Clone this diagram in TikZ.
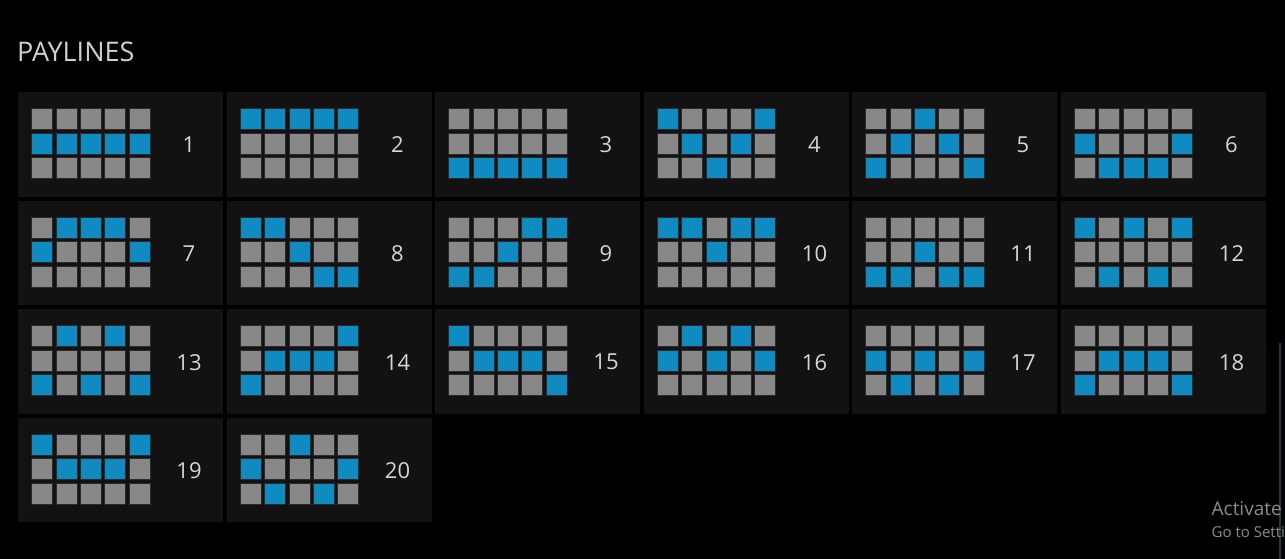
\documentclass[tikz,border=0pt]{standalone}
\usepackage{fontspec}
\setmainfont{Open Sans}
\definecolor{cellbg}{HTML}{121212}
\definecolor{sqgray}{HTML}{888888}
\definecolor{sqblue}{HTML}{0F8BC1}
\definecolor{numtxt}{HTML}{D6D6D6}
\definecolor{titletxt}{HTML}{D0D0D0}
\definecolor{wmtxt}{HTML}{8C8C8C}
\definecolor{scrollc}{HTML}{17394A}
\definecolor{sqedge}{HTML}{2A2A2A}
\tikzset{
  cellbox/.style={fill=cellbg},
  sq0/.style={fill=sqgray, draw=sqedge, line width=0.6pt},
  sq1/.style={fill=sqblue, draw=sqedge, line width=0.6pt},
  numlabel/.style={text=numtxt, font=\fontsize{22}{26}\selectfont, inner sep=0pt},
}
\newcommand\payln[6]{%
  \pgfmathsetmacro\cxx{18+208.5*#1}%
  \pgfmathsetmacro\cyy{92+108.6*#2}%
  \fill[cellbox] (\cxx,\cyy) rectangle ++(205,104.5);
  \foreach \v [count=\i from 0] in {#4} {\filldraw[sq\v] (\cxx+13.5+24.4*\i,\cyy+16.5) rectangle ++(21,21);}
  \foreach \v [count=\i from 0] in {#5} {\filldraw[sq\v] (\cxx+13.5+24.4*\i,\cyy+40.9) rectangle ++(21,21);}
  \foreach \v [count=\i from 0] in {#6} {\filldraw[sq\v] (\cxx+13.5+24.4*\i,\cyy+65.3) rectangle ++(21,21);}
  \node[numlabel] (n#3) at (\cxx+171,\cyy+53) {#3};
}
\begin{document}
\begin{tikzpicture}[x=1pt,y=-1pt]
\fill[black] (0,0) rectangle (1285,559);
\useasboundingbox (0,0) rectangle (1285,559);
\node[anchor=base west, inner sep=0pt, text=titletxt, font=\fontsize{27}{32}\selectfont] (title) at (17,61.7) {PAYLINES};
\payln{0}{0}{1}{0,0,0,0,0}{1,1,1,1,1}{0,0,0,0,0}
\payln{1}{0}{2}{1,1,1,1,1}{0,0,0,0,0}{0,0,0,0,0}
\payln{2}{0}{3}{0,0,0,0,0}{0,0,0,0,0}{1,1,1,1,1}
\payln{3}{0}{4}{1,0,0,0,1}{0,1,0,1,0}{0,0,1,0,0}
\payln{4}{0}{5}{0,0,1,0,0}{0,1,0,1,0}{1,0,0,0,1}
\payln{5}{0}{6}{0,0,0,0,0}{1,0,0,0,1}{0,1,1,1,0}
\payln{0}{1}{7}{0,1,1,1,0}{1,0,0,0,1}{0,0,0,0,0}
\payln{1}{1}{8}{1,1,0,0,0}{0,0,1,0,0}{0,0,0,1,1}
\payln{2}{1}{9}{0,0,0,1,1}{0,0,1,0,0}{1,1,0,0,0}
\payln{3}{1}{10}{1,1,0,1,1}{0,0,1,0,0}{0,0,0,0,0}
\payln{4}{1}{11}{0,0,0,0,0}{0,0,1,0,0}{1,1,0,1,1}
\payln{5}{1}{12}{1,0,1,0,1}{0,0,0,0,0}{0,1,0,1,0}
\payln{0}{2}{13}{0,1,0,1,0}{0,0,0,0,0}{1,0,1,0,1}
\payln{1}{2}{14}{0,0,0,0,1}{0,1,1,1,0}{1,0,0,0,0}
\payln{2}{2}{15}{1,0,0,0,0}{0,1,1,1,0}{0,0,0,0,1}
\payln{3}{2}{16}{0,1,0,1,0}{1,0,1,0,1}{0,0,0,0,0}
\payln{4}{2}{17}{0,0,0,0,0}{1,0,1,0,1}{0,1,0,1,0}
\payln{5}{2}{18}{0,0,0,0,0}{0,1,1,1,0}{1,0,0,0,1}
\payln{0}{3}{19}{1,0,0,0,1}{0,1,1,1,0}{0,0,0,0,0}
\payln{1}{3}{20}{0,0,1,0,0}{1,0,0,0,1}{0,1,0,1,0}
\fill[scrollc] (1279,343) rectangle (1281,559);
\node[anchor=base west, inner sep=0pt, text=wmtxt, font=\fontsize{19}{22}\selectfont] (wm1) at (1211.5,515) {Activate};
\node[anchor=base west, inner sep=0pt, text=wmtxt, font=\fontsize{15}{18}\selectfont] (wm2) at (1211.5,537) {Go to Setti};
\end{tikzpicture}
\end{document}
